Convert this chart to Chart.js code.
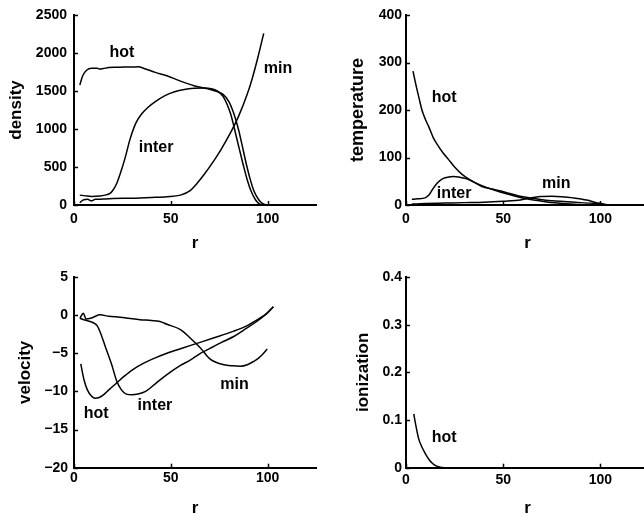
<!DOCTYPE html>
<html><head><meta charset="utf-8">
<script src="https://cdn.jsdelivr.net/npm/chart.js@4"></script>
<style>
html,body{margin:0;padding:0;background:#fff;overflow:hidden;width:644px;height:514px;position:relative}
canvas{position:absolute}
</style></head><body>
<canvas id="c1" width="322" height="257" style="left:0;top:0"></canvas>
<canvas id="c2" width="332" height="257" style="left:322px;top:0"></canvas>
<canvas id="c3" width="322" height="265" style="left:0;top:257px"></canvas>
<canvas id="c4" width="332" height="265" style="left:322px;top:257px"></canvas>
<script>
// ---- shared x axis ----
const xTicks = [0, 50, 100];
const xMax = 125;

// ---- density ----
const densHotR   = [3,4.5,6.6,9,12,13,15,18,22,26,30,33,37,42,48,55,62,68,73,77,80,82.5,85,87,89,91,93,95.5,98,100];
const densHotV   = [1580,1700,1776,1800,1800,1790,1795,1808,1812,1815,1815,1818,1790,1745,1700,1630,1570,1535,1500,1455,1360,1206,990,767,540,340,180,66,10,0];
const densInterR = [3,6,9,13.4,16,18.6,20,22,24,26.4,29,32,35,38,42,47,52,57,62,67,71,74,77,80.8,83,85.1,87.3,89.5,91.5,93.8,96,98];
const densInterV = [130,120,112,118,130,154,190,280,420,620,870,1080,1200,1280,1360,1440,1490,1520,1535,1540,1530,1500,1430,1206,990,767,540,329,180,66,10,0];
const densMinR   = [3,5,7,9,11,13,16,20,30,40,48,55,60,63.6,67,72.2,76,80.8,85.1,89.5,92,95,98];
const densMinV   = [30,70,75,55,75,75,80,85,90,100,110,130,190,285,394,581,733,949,1173,1459,1659,1944,2259];
const densTicks  = [0,500,1000,1500,2000,2500];

// ---- temperature ----
const tempHotR   = [3.6,5,7,8.2,10,11.7,14,16.8,19,22,25,29,33,39,45,51,58,65.6,72,82.8,90,100];
const tempHotV   = [282,255,220,200,180,165,142,123,110,95,80,64,53,39,33,27,19,14,10,7,5,3];
const tempInterR = [3,6,9.8,12,14,16,19.2,22,24.4,27,31.3,36,42,48,55,62,70,78,85,90];
const tempInterV = [12,13,15,22,35,46,56,59,60,59,55,46,36,28,20,13,8,4,2,1];
const tempMinR   = [3,10,20,30,40,50,58.8,64,69,75,80,86,93,98,101.6,104];
const tempMinV   = [2,3,4,5,6,8,10.5,15,18,18.5,17.5,15,10.5,5,2,0];
const tempTicks  = [0,100,200,300,400];

// ---- velocity ----
const velHotR   = [3.5,5.2,6.9,9,10.9,13,15.2,18,22,26,30,36,42,48,55,63.5,72,82.5,90,96,100,103];
const velHotV   = [-6.4,-8.5,-9.8,-10.6,-10.9,-10.8,-10.45,-9.8,-8.9,-8.0,-7.2,-6.3,-5.6,-5.0,-4.4,-3.7,-3.0,-2.1,-1.3,-0.4,0.3,1.1];
const velInterR = [3,5,8,10,12,13.5,16,19.5,22,24.5,27,30,33,37,42,48,55,60,65.3,70,76,82.5,88,94,99,103];
const velInterV = [-0.4,-0.6,-0.8,-1.0,-1.4,-2.2,-4.0,-6.5,-8.6,-9.8,-10.35,-10.45,-10.35,-10.0,-9.0,-7.8,-6.6,-5.9,-5.0,-4.4,-3.6,-2.8,-1.9,-0.9,0.1,1.1];
const velMinR   = [3.1,4.8,6.2,8,10,13.4,18,23.8,28,34,40,44.4,48,55,60,65.3,70.5,77.4,82,86,89.5,92.9,95,97.2,99.8];
const velMinV   = [-0.4,0.26,-0.5,-0.45,-0.27,0.04,-0.15,-0.27,-0.4,-0.6,-0.7,-0.83,-1.2,-1.9,-3.0,-4.3,-5.8,-6.5,-6.65,-6.7,-6.5,-6.05,-5.7,-5.2,-4.45];
const velTicks  = [-20,-15,-10,-5,0,5];

// ---- ionization ----
const ionHotR  = [4,5,6.5,8,10,12,13.4,15,16.8,18.5,20];
const ionHotV  = [0.113,0.09,0.061,0.045,0.029,0.016,0.010,0.005,0.002,0.0005,0];
const ionTicks = [0,0.1,0.2,0.3,0.4];

// ---- curve labels (data coordinates) ----
const densLabels = [['hot',24.8,2000],['inter',42.4,750],['min',105.4,1800]];
const tempLabels = [['hot',19.6,227],['inter',24.7,25],['min',77.3,46]];
const velLabels  = [['hot',11.4,-12.9],['inter',41.8,-11.8],['min',82.9,-9.1]];
const ionLabels  = [['hot',19.6,0.064]];

const FONT = "'Liberation Sans', Arial, Helvetica, sans-serif";
Chart.defaults.font.family = FONT;
Chart.defaults.color = '#000';

function pts(rs, vs){ return rs.map((r,i)=>({x:r, y:vs[i]})); }
function fmt(v){ return v < 0 ? '\u2212' + Math.abs(v) : String(v); }

const inward = {
  id:'inward',
  afterDraw(chart){
    const ctx = chart.ctx, a = chart.chartArea, xs = chart.scales.x, ys = chart.scales.y;
    ctx.save(); ctx.strokeStyle='#000'; ctx.lineWidth=1.5;
    xs.ticks.forEach(t=>{ const p=Math.round(xs.getPixelForValue(t.value))+0.5; ctx.beginPath(); ctx.moveTo(p,a.bottom); ctx.lineTo(p,a.bottom-4); ctx.stroke(); });
    ys.ticks.forEach(t=>{ const p=Math.round(ys.getPixelForValue(t.value))+0.5; ctx.beginPath(); ctx.moveTo(a.left,p); ctx.lineTo(a.left+4,p); ctx.stroke(); });
    // curve labels
    ctx.font = 'bold 16px ' + FONT; ctx.fillStyle='#000'; ctx.textAlign='center'; ctx.textBaseline='middle';
    (chart.options.plugins.inward.labels||[]).forEach(l=>{
      ctx.fillText(l[0], xs.getPixelForValue(l[1]), ys.getPixelForValue(l[2]));
    });
    ctx.restore();
  }
};

function make(id, series, yTicks, yTitle, labels, L){
  const datasets = series.map(s=>({
    data: pts(s[0], s[1]), borderColor:'#000', borderWidth:1.5, pointRadius:0,
    fill:false, cubicInterpolationMode:'monotone'
  }));
  new Chart(document.getElementById(id), {
    type:'line',
    data:{datasets},
    options:{
      responsive:false, animation:false, devicePixelRatio:1,
      layout:{padding:{left:0, right:L.pr, top:L.pt, bottom:0}},
      plugins:{legend:{display:false}, tooltip:{enabled:false}, inward:{labels}},
      scales:{
        x:{
          type:'linear', min:0, max:xMax,
          afterBuildTicks:s=>{ s.ticks = xTicks.map(v=>({value:v})); },
          afterFit:s=>{ s.height=L.xh; s.paddingLeft=0; s.paddingRight=0; s.paddingTop=0; s.paddingBottom=0; },
          grid:{display:true, drawOnChartArea:false, drawTicks:false},
          border:{display:true, color:'#000', width:2},
          ticks:{padding:L.xtp, maxRotation:0, font:{size:14, weight:'bold'}, color:'#000', callback:v=>fmt(v)},
          title:{display:true, text:'r', font:{size:17, weight:'bold'}, color:'#000', padding:{top:0,bottom:3}}
        },
        y:{
          type:'linear', min:yTicks[0], max:yTicks[yTicks.length-1],
          afterBuildTicks:s=>{ s.ticks = yTicks.map(v=>({value:v})); },
          afterFit:s=>{ s.width=L.yw; s.paddingLeft=0; s.paddingRight=0; s.paddingTop=0; s.paddingBottom=0; },
          grid:{display:true, drawOnChartArea:false, drawTicks:false},
          border:{display:true, color:'#000', width:2},
          ticks:{padding:L.ytp, font:{size:14, weight:'bold'}, color:'#000', callback:v=>fmt(v)},
          title:{display:true, text:yTitle, font:{size:L.tfs, weight:'bold'}, color:'#000', padding:{top:L.ttp,bottom:0}}
        }
      }
    },
    plugins:[inward]
  });
}

make('c1', [[densHotR,densHotV],[densInterR,densInterV],[densMinR,densMinV]], densTicks, 'density', densLabels,
  {pr:6, pt:15, xh:52, yw:74, xtp:6, ytp:7, ttp:6.5, tfs:17});
make('c2', [[tempHotR,tempHotV],[tempInterR,tempInterV],[tempMinR,tempMinV]], tempTicks, 'temperature', tempLabels,
  {pr:5, pt:15, xh:52, yw:84, xtp:6, ytp:4, ttp:25.5, tfs:18});
make('c3', [[velHotR,velHotV],[velInterR,velInterV],[velMinR,velMinV]], velTicks, 'velocity', velLabels,
  {pr:6, pt:20, xh:54.3, yw:74, xtp:2, ytp:6, ttp:15.3, tfs:17});
make('c4', [[ionHotR,ionHotV]], ionTicks, 'ionization', ionLabels,
  {pr:5, pt:20, xh:54.3, yw:84, xtp:4, ytp:4, ttp:31, tfs:17});
</script>
</body></html>
